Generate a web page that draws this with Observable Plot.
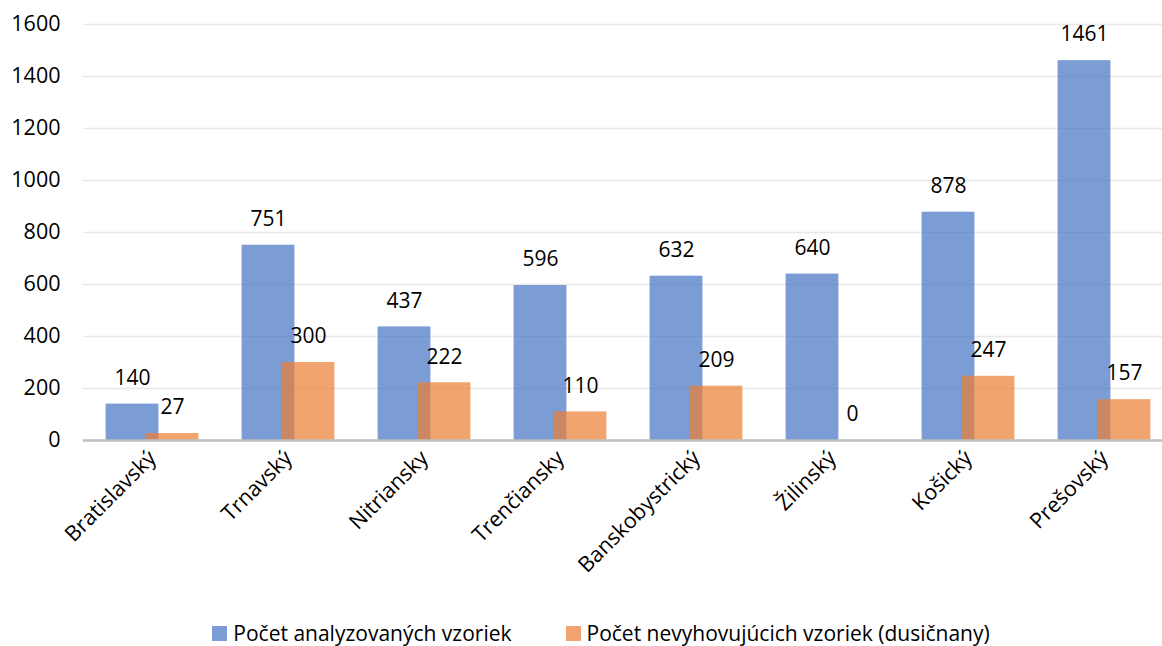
<!DOCTYPE html>
<html>
<head>
<meta charset="utf-8">
<script src="https://cdn.jsdelivr.net/npm/d3@7"></script>
<script src="https://cdn.jsdelivr.net/npm/@observablehq/plot@0.6"></script>
<style>
  html, body { margin: 0; padding: 0; background: #fff; }
  #chart svg { display: block; overflow: visible; }
  #legend { display: flex; justify-content: center; align-items: center; height: 46px; margin-top: 10px; padding-left: 40px;
    font-family: "Open Sans", sans-serif; font-size: 21px; color: #000; }
  .item { display: flex; align-items: center; }
  .sw { width: 15px; height: 15px; margin-right: 6px; }
</style>
</head>
<body>
<div id="chart"></div>
<div id="legend"></div>
<script>
const regions = ["Bratislavský", "Trnavský", "Nitriansky", "Trenčiansky", "Banskobystrický", "Žilinský", "Košický", "Prešovský"];
const analyzed = [140, 751, 437, 596, 632, 640, 878, 1461];
const failing = [27, 300, 222, 110, 209, 0, 247, 157];
const seriesNames = ["Počet analyzovaných vzoriek", "Počet nevyhovujúcich vzoriek (dusičnany)"];
const yTicks = [0, 200, 400, 600, 800, 1000, 1200, 1400, 1600];

const blueData = regions.map((r, i) => ({region: r, value: analyzed[i]}));
const orangeData = regions.map((r, i) => ({region: r, value: failing[i]}));

const font = "'Open Sans', sans-serif";
const plot = Plot.plot({
  width: 1162,
  height: 600,
  marginTop: 24,
  marginBottom: 160,
  marginLeft: 83,
  marginRight: 0,
  style: {fontFamily: font, fontSize: "20px", color: "#000", background: "#fff"},
  x: {domain: regions, range: [83.4, 1173.6], padding: 0, axis: null},
  y: {domain: [0, 1600], axis: null},
  marks: [
    Plot.gridY(yTicks, {stroke: "#e8e8e8", strokeOpacity: 1, strokeWidth: 1.5}),
    Plot.axisY(yTicks, {tickSize: 0, tickPadding: 23, fontSize: 21.5, fill: "#000", label: null, tickFormat: d => String(d)}),
    Plot.barY(blueData, {x: "region", y: "value", fill: "#4472C4", fillOpacity: 0.7, insetLeft: 21.6, insetRight: 61.6}),
    Plot.barY(orangeData, {x: "region", y: "value", fill: "#ED7D31", fillOpacity: 0.7, insetLeft: 61.6, insetRight: 21.6}),
    Plot.ruleY([0], {stroke: "#bfbfbf", strokeWidth: 2.5}),
    Plot.text(blueData, {x: "region", y: "value", text: d => String(d.value), dx: -20, dy: -26, fontSize: 21, fill: "#000", lineAnchor: "middle"}),
    Plot.text(orangeData, {x: "region", y: "value", text: d => String(d.value), dx: 20, dy: -26, fontSize: 21, fill: "#000", lineAnchor: "middle"}),
    Plot.axisX(regions, {tickSize: 0, tickRotate: -45, tickPadding: 14, fontSize: 21.5, fill: "#000", label: null})
  ]
});
document.getElementById("chart").appendChild(plot);

const legendColors = ["#7C9CD6", "#F1A46F"];
const leg = document.getElementById("legend");
seriesNames.forEach((n, i) => {
  const it = document.createElement("div");
  it.className = "item";
  if (i > 0) it.style.marginLeft = "54px";
  const sw = document.createElement("div");
  sw.className = "sw";
  sw.style.background = legendColors[i];
  const t = document.createElement("span");
  t.textContent = n;
  it.appendChild(sw); it.appendChild(t);
  leg.appendChild(it);
});
</script>
</body>
</html>
